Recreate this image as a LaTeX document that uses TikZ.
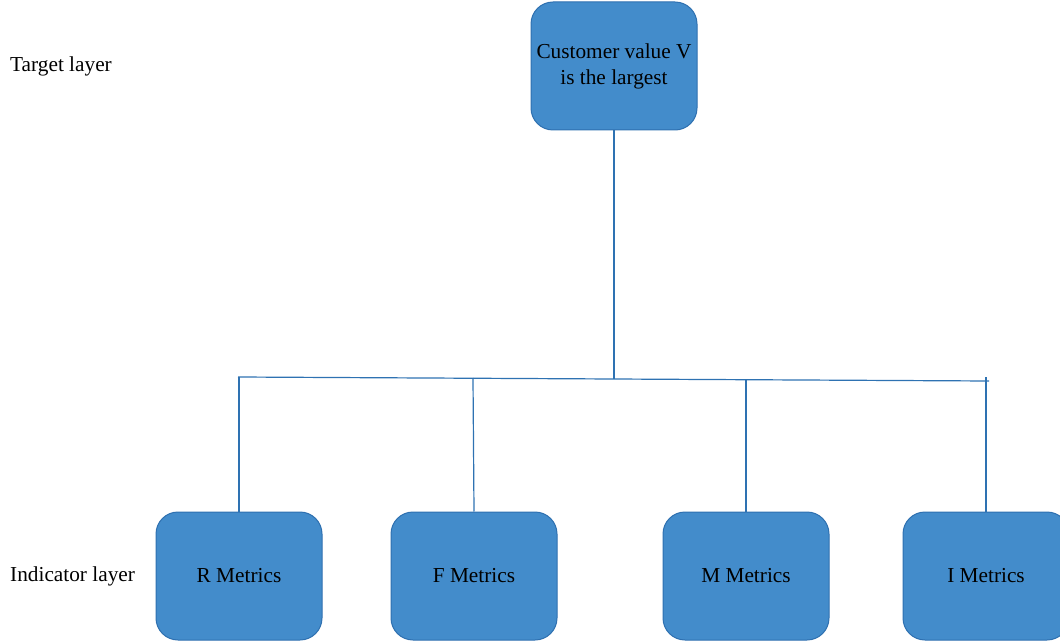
\documentclass[tikz,border=0pt]{standalone}
\usepackage{fontspec}
\setmainfont{Liberation Serif}
\definecolor{boxfill}{RGB}{67,140,203}
\definecolor{boxline}{RGB}{46,112,176}
\definecolor{linkcol}{RGB}{46,114,178}
\begin{document}
\begin{tikzpicture}[x=1bp,y=-1bp,
  metric/.style={draw=boxline,line width=1bp,fill=boxfill,rounded corners=22bp,
    minimum width=166bp,minimum height=128bp,inner sep=0pt,align=center,
    font=\fontsize{21.3bp}{26bp}\selectfont},
  layerlabel/.style={anchor=west,inner sep=0pt,font=\fontsize{21.3bp}{25bp}\selectfont},
  link/.style={draw=linkcol,line width=1.2bp}]
\useasboundingbox (0,0) rectangle (1060,644);
\clip (0,0) rectangle (1060,644);
\node[layerlabel] (tl) at (10,66) {Target layer};
\node[layerlabel] (il) at (10,576) {Indicator layer};
\node[metric] (top) at (614,66) {Customer value V\\is the largest};
\node[metric] (r) at (239,576) {R Metrics};
\node[metric] (f) at (474,576) {F Metrics};
\node[metric] (m) at (746,576) {M Metrics};
\node[metric] (i) at (986,576) {I Metrics};
\coordinate (barL) at (238,377);
\coordinate (barR) at (989,381);
\coordinate (jT) at (614,379);
\coordinate (jR) at (239,377);
\coordinate (jF) at (473,378);
\coordinate (jM) at (746,380);
\coordinate (jI) at (986,377);
\draw[link] (barL) -- (barR);
\draw[link] (top.south) -- (jT);
\draw[link] (jR) -- (r.north);
\draw[link] (jF) -- (f.north);
\draw[link] (jM) -- (m.north);
\draw[link] (jI) -- (i.north);
\end{tikzpicture}
\end{document}
